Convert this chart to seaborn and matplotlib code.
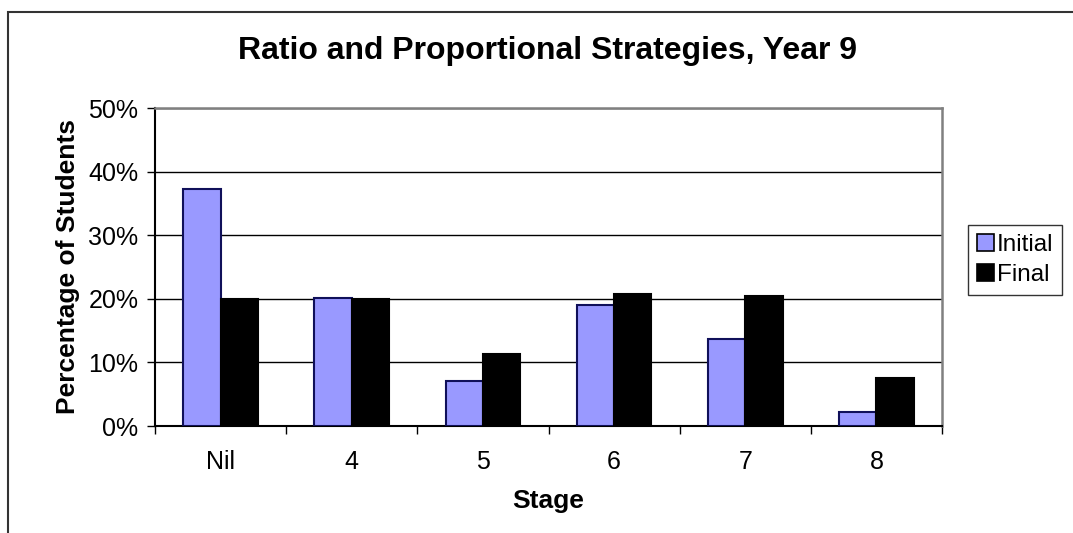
import matplotlib
matplotlib.use("Agg")
import matplotlib.pyplot as plt
from matplotlib.patches import Rectangle, Patch
from matplotlib.ticker import FuncFormatter, FixedLocator
import seaborn as sns
import pandas as pd

# Stage categories and share of students (%) at each stage
stages = ["Nil", "4", "5", "6", "7", "8"]
initial = [37.2, 20.2, 7.0, 19.0, 13.7, 2.2]
final = [19.9, 20.0, 11.3, 20.7, 20.4, 7.5]
series = ["Initial", "Final"]
colors = {"Initial": "#9999FF", "Final": "#000000"}

df = pd.DataFrame({
    "Stage": stages * 2,
    "Percent": initial + final,
    "Series": [series[0]] * len(stages) + [series[1]] * len(stages),
})

sns.set_theme(style="white")
plt.rcParams["font.family"] = ["Liberation Sans", "DejaVu Sans"]
plt.rcParams["text.color"] = "#000000"
plt.rcParams["axes.labelcolor"] = "#000000"
plt.rcParams["xtick.color"] = "#000000"
plt.rcParams["ytick.color"] = "#000000"

W, H = 1073, 533
fig = plt.figure(figsize=(W / 100, H / 100), dpi=100)
fig.patch.set_facecolor("white")

# chart frame (left and top edges visible)
fig.patches.append(Rectangle((8 / W, -0.1), 1.2, (H - 12) / H + 0.1,
                             transform=fig.transFigure, fill=False,
                             edgecolor="#333333", linewidth=1.5, zorder=0))

ax = fig.add_axes([155 / W, (H - 426) / H, 787 / W, 318 / H])
sns.barplot(data=df, x="Stage", y="Percent", hue="Series", order=stages,
            hue_order=series, palette=colors, width=0.57, saturation=1,
            edgecolor="#000000", linewidth=1.5, ax=ax, legend=False, zorder=3)

# navy outline on the light bars
for bar in ax.containers[0]:
    bar.set_edgecolor("#10105A")

ax.set_ylim(0, 50)
ax.set_xlim(-0.5, len(stages) - 0.5)
ax.set_yticks([0, 10, 20, 30, 40, 50])
ax.yaxis.set_major_formatter(FuncFormatter(lambda v, p: f"{v:.0f}%"))
ax.yaxis.grid(True, color="#000000", linewidth=1.0, zorder=1)
ax.set_axisbelow(True)

ax.xaxis.set_minor_locator(FixedLocator([i - 0.5 for i in range(len(stages) + 1)]))
ax.tick_params(axis="x", which="major", length=0, pad=17, labelsize=18, labelcolor="#000000")
ax.tick_params(axis="x", which="minor", length=6, width=1.0, color="#000000",
               direction="out", bottom=True)
ax.tick_params(axis="y", which="major", length=6, width=1.0, color="#000000",
               direction="out", left=True, pad=6, labelsize=18, labelcolor="#000000")

for side in ["left", "bottom"]:
    ax.spines[side].set_color("#000000")
    ax.spines[side].set_linewidth(1.5)
for side in ["top", "right"]:
    ax.spines[side].set_visible(True)
    ax.spines[side].set_color("#808080")
    ax.spines[side].set_linewidth(1.8)

ax.set_xlabel("Stage", fontsize=19, fontweight="bold", labelpad=11, color="#000000")
ax.set_ylabel("Percentage of Students", fontsize=19, fontweight="bold", labelpad=6,
              color="#000000")

fig.text((237 + 857) / 2 / W, 1 - 51 / H, "Ratio and Proportional Strategies, Year 9",
         ha="center", va="center", fontsize=23, fontweight="bold", color="#000000")

handles = [Patch(facecolor=colors["Initial"], edgecolor="#000000", linewidth=1.2, label="Initial"),
           Patch(facecolor=colors["Final"], edgecolor="#000000", linewidth=1.2, label="Final")]
leg = fig.legend(handles=handles, loc="upper left",
                 bbox_to_anchor=(968 / W, 1 - 225 / H), fontsize=17.5,
                 frameon=True, fancybox=False, handlelength=0.7, handleheight=0.7,
                 handletextpad=0.15, borderpad=0.35, labelspacing=0.35,
                 borderaxespad=0)
leg.get_frame().set_edgecolor("#000000")
leg.get_frame().set_linewidth(1.0)
for t in leg.get_texts():
    t.set_color("#000000")

fig.savefig("out.png", dpi=100, facecolor="white")
